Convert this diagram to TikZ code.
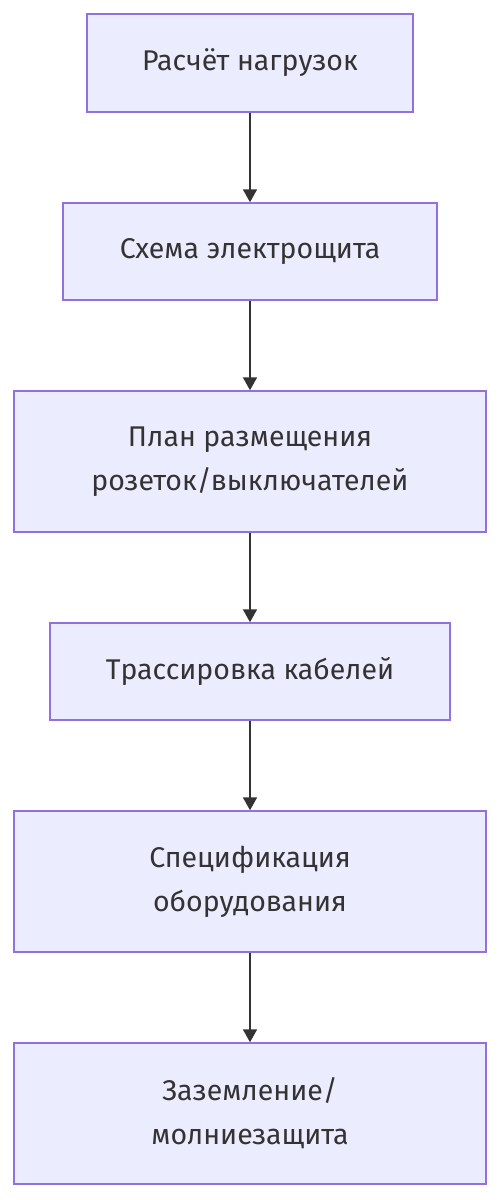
\documentclass[tikz,border=0pt]{standalone}
\usepackage{fontspec}
\setmainfont{Fira Sans}
\usetikzlibrary{arrows.meta}
\definecolor{boxfill}{HTML}{ECECFF}
\definecolor{boxline}{HTML}{9370DB}
\definecolor{txt}{HTML}{333333}
\tikzset{
  box/.style={draw=boxline, fill=boxfill, line width=1.5pt, text=txt,
    font=\fontsize{28.5}{44}\selectfont, align=center, inner sep=0pt},
  conn/.style={draw=txt, line width=2pt, -{Triangle[width=14pt,length=13pt]}}
}
\begin{document}
\begin{tikzpicture}[x=1pt,y=-1pt]
\useasboundingbox (0,0) rectangle (501,1200);
\node[box, minimum width=326pt, minimum height=98pt] (a) at (250,63) {Расчёт нагрузок};
\node[box, minimum width=374pt, minimum height=97pt] (b) at (250,251.5) {Схема электрощита};
\node[box, minimum width=472pt, minimum height=141pt] (c) at (250,461.5) {План размещения\\розеток/выключателей};
\node[box, minimum width=400pt, minimum height=97pt] (d) at (250,671.5) {Трассировка кабелей};
\node[box, minimum width=472pt, minimum height=141pt] (e) at (250,881.5) {Спецификация\\оборудования};
\node[box, minimum width=472pt, minimum height=141pt] (f) at (250,1113.5) {Заземление/\\молниезащита};
\draw[conn] (a) -- (b);
\draw[conn] (b) -- (c);
\draw[conn] (c) -- (d);
\draw[conn] (d) -- (e);
\draw[conn] (e) -- (f);
\end{tikzpicture}
\end{document}
